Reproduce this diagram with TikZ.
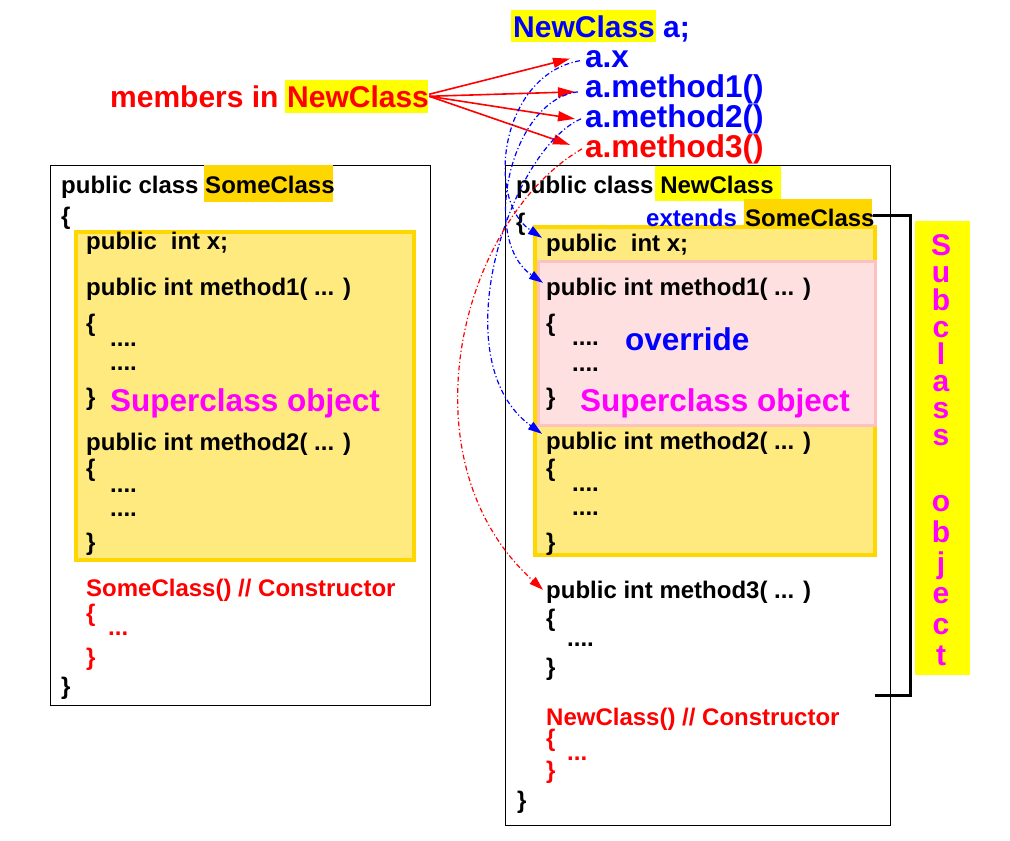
\documentclass[tikz,border=0pt]{standalone}
\usepackage{fontspec}
\setmainfont{Liberation Sans}
\usetikzlibrary{arrows.meta}
\definecolor{hlgold}{RGB}{255,215,0}
\definecolor{hlyel}{RGB}{255,255,0}
\definecolor{boxfill}{RGB}{255,234,128}
\definecolor{pinkfill}{RGB}{255,224,224}
\definecolor{pinkline}{RGB}{255,192,192}
\definecolor{mag}{RGB}{255,0,255}
\newcommand\cdf{\fontsize{24}{28}\selectfont\bfseries}
\newcommand\bgf{\fontsize{31.5}{36}\selectfont\bfseries}
\newcommand\mdf{\fontsize{30}{34}\selectfont\bfseries}
\tikzset{
  txt/.style={anchor=base west, inner sep=0pt, font=\cdf},
  lbl/.style={anchor=base west, inner sep=0pt, font=\bgf},
  mlbl/.style={anchor=base west, inner sep=0pt, font=\mdf},
  letter/.style={anchor=base, inner sep=0pt, font=\mdf, text=mag},
  bluecurve/.style={blue, line width=1.2pt, dash pattern=on 5pt off 2.5pt on 1.2pt off 2.5pt, -{Triangle[length=14pt,width=9pt]}},
  redcurve/.style={red, line width=1.2pt, dash pattern=on 5pt off 2.5pt on 1.2pt off 2.5pt, -{Triangle[length=14pt,width=9pt]}},
  redarrow/.style={red, line width=1.6pt, -{Triangle[length=17pt,width=10pt]}},
  classbox/.style={draw=black, line width=1pt},
}
\begin{document}
\begin{tikzpicture}[x=1pt,y=-1pt]
\useasboundingbox (0,0) rectangle (1010,841);
\fill[white] (0,0) rectangle (1010,841);

% ---------- left class box ----------
\draw[classbox] (50,165) rectangle (430,705);
\fill[hlgold] (204,165) rectangle (333,202);
\draw[line width=4pt, hlgold, fill=boxfill] (76,232) rectangle (414,560);
\node[txt] (ltitle) at (61,193) {public class SomeClass};
\foreach \t/\xx/\yy/\n in {
  {\{}/61/224/lob,
  {public\hspace{14pt}int x;}/86/249/lx,
  {public int method1( ... )}/86/295/lm1,
  {\{}/86/331/lm1o,
  {....}/110/346/lm1a,
  {....}/110/370/lm1b,
  {\}}/86/405/lm1c,
  {public int method2( ... )}/86/450/lm2,
  {\{}/86/476/lm2o,
  {....}/110/492/lm2a,
  {....}/110/516/lm2b,
  {\}}/86/550/lm2c,
  {\}}/61/694/lcb}
  \node[txt] (\n) at (\xx,\yy) {\t};
\node[lbl, text=mag] (lsup) at (110,411) {Superclass object};
\foreach \t/\xx/\yy/\n in {
  {SomeClass() // Constructor}/86/596/lcon,
  {\{}/86/621/lcono,
  {...}/108/635/lcona,
  {\}}/86/665/lconc}
  \node[txt, text=red] (\n) at (\xx,\yy) {\t};

% ---------- right class box ----------
\draw[classbox] (505,165) rectangle (890,825);
\fill[hlyel] (655,166) rectangle (781,201);
\fill[hlgold] (744,199) rectangle (872,237);
\draw[line width=4pt, hlgold, fill=boxfill] (535,227) rectangle (875,555);
\draw[line width=3pt, pinkline, fill=pinkfill] (538.5,261.5) rectangle (875.5,425.5);
\node[txt] (rtitle) at (516,193) {public class NewClass};
\node[txt, text=blue] (rext) at (646,226) {extends};
\node[txt] (rsome) at (745,226) {SomeClass};
\foreach \t/\xx/\yy/\n in {
  {\{}/516/230/rob,
  {public\hspace{14pt}int x;}/546/251/rx,
  {public int method1( ... )}/546/295/rm1,
  {\{}/546/331/rm1o,
  {....}/572/345/rm1a,
  {....}/572/371/rm1b,
  {\}}/546/405/rm1c,
  {public int method2( ... )}/546/449/rm2,
  {\{}/546/476/rm2o,
  {....}/572/491/rm2a,
  {....}/572/515/rm2b,
  {\}}/546/550/rm2c,
  {public int method3( ... )}/546/598/rm3,
  {\{}/546/626/rm3o,
  {....}/567/646/rm3a,
  {\}}/546/675/rm3c,
  {\}}/517/808/rcb}
  \node[txt] (\n) at (\xx,\yy) {\t};
\node[lbl, text=blue] (rover) at (625,350) {override};
\node[lbl, text=mag] (rsup) at (580,411) {Superclass object};
\foreach \t/\xx/\yy/\n in {
  {NewClass() // Constructor}/546/725/rcon,
  {\{}/546/746/rcono,
  {...}/567/760/rcona,
  {\}}/546/778/rconc}
  \node[txt, text=red] (\n) at (\xx,\yy) {\t};

% ---------- subclass bracket ----------
\draw[line width=3pt] (873,215) -- (910,215) -- (910,695) -- (875,695);
\fill[hlyel] (915,221) rectangle (970,675);
\foreach \c/\yy/\n in {S/255/s1,u/282/s2,b/310/s3,c/337/s4,l/364/s5,a/391/s6,s/418/s7,s/445/s8,
                       o/511/s9,b/542/s10,j/573/s11,e/603/s12,c/634/s13,t/665/s14}
  \node[letter] (\n) at (941,\yy) {\c};

% ---------- top labels ----------
\fill[hlyel] (511,10) rectangle (656,42);
\node[mlbl, text=blue] (decl) at (513,37) {NewClass a;};
\node[lbl, text=blue] (ax) at (585,67) {a.x};
\node[lbl, text=blue] (am1) at (585,97) {a.method1()};
\node[lbl, text=blue] (am2) at (585,127) {a.method2()};
\node[lbl, text=red] (am3) at (585,157) {a.method3()};
\fill[hlyel] (285,80) rectangle (428,113);
\node[mlbl, text=red] (mem) at (110,107) {members in};
\node[mlbl, text=red] (memnc) at (287,107) {NewClass};

% ---------- red solid arrows ----------
\draw[redarrow] ([yshift=2pt]memnc.east) -- ([xshift=-15pt]ax.west);
\draw[redarrow] (memnc.east) -- ([xshift=-10pt,yshift=-3pt]am1.west);
\draw[redarrow] (memnc.east) -- ([xshift=-10pt]am2.west);
\draw[redarrow] (memnc.east) -- ([xshift=-15pt,yshift=4pt]am3.west);

% ---------- dash-dot curves ----------
\draw[bluecurve] ([xshift=-5pt,yshift=-2pt]ax.west) .. controls (500,75) and (485,200) .. ([xshift=-4pt,yshift=7pt]rx.west);
\draw[bluecurve] ([xshift=-7pt,yshift=-3pt]am1.west) .. controls (510,100) and (480,240) .. ([xshift=-3pt,yshift=6pt]rm1.west);
\draw[bluecurve] ([xshift=-4pt]am2.west) .. controls (510,150) and (440,360) .. ([xshift=-4pt,yshift=9pt]rm2.west);
\draw[redcurve] ([xshift=-3pt]am3.west) .. controls (460,220) and (400,460) .. ([xshift=-3pt,yshift=2pt]rm3.west);
\end{tikzpicture}
\end{document}
